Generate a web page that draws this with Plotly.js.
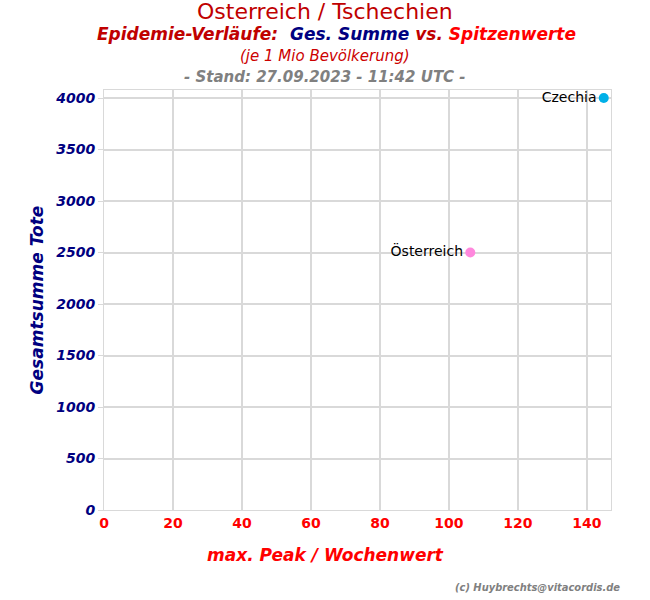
<!DOCTYPE html>
<html><head><meta charset="utf-8">
<script src="https://cdn.plot.ly/plotly-3.0.1.min.js"></script>
<style>body{margin:0;padding:0;background:#fff}#chart{width:650px;height:600px}</style>
</head><body><div id="chart"></div>
<script>
const countries = ["Österreich", "Czechia"];
const peakValues = [106.2, 144.9];
const totalDeaths = [2500, 4000];
const markerColors = ["#ff88dd", "#00b0e8"];
const xTicks = [0, 20, 40, 60, 80, 100, 120, 140];
const yTicks = [0, 500, 1000, 1500, 2000, 2500, 3000, 3500, 4000];

const F = "DejaVu Sans, sans-serif";
const CX = -32.5; // shift from plot centre to page centre
const data = [{
  type: "scatter", mode: "markers+text",
  x: peakValues, y: totalDeaths, text: countries,
  textposition: "middle left",
  textfont: {family: F, size: 14, color: "#000"},
  marker: {size: 10, color: markerColors},
  cliponaxis: false, hoverinfo: "none"
}];
const layout = {
  width: 650, height: 600,
  margin: {l: 104, r: 39, t: 90, b: 90},
  paper_bgcolor: "#fff", plot_bgcolor: "#fff",
  showlegend: false,
  font: {family: F},
  xaxis: {
    range: [0, 147], tickvals: xTicks, ticktext: xTicks.map(String),
    showgrid: true, gridcolor: "#d9d9d9", gridwidth: 2,
    zeroline: false, showline: true, linecolor: "#d9d9d9", linewidth: 1, mirror: true,
    ticks: "", tickfont: {family: F, size: 14, color: "#ff0000", weight: "bold"}
  },
  yaxis: {
    range: [0, 4078], tickvals: yTicks, ticktext: yTicks.map(String),
    showgrid: true, gridcolor: "#d9d9d9", gridwidth: 2,
    zeroline: false, showline: true, linecolor: "#d9d9d9", linewidth: 1, mirror: true,
    ticks: "outside", ticklen: 5, tickcolor: "#d9d9d9",
    tickfont: {family: F, size: 14, color: "#000080", weight: "bold", style: "italic"},
    title: {text: "Gesamtsumme Tote", standoff: 7,
      font: {family: F, size: 17, color: "#000080", weight: "bold", style: "italic"}}
  },
  annotations: [
    {text: "Osterreich / Tschechien", xref: "paper", yref: "paper", x: 0.5, y: 1, xshift: CX, yshift: 79,
     xanchor: "center", yanchor: "middle", showarrow: false,
     font: {family: F, size: 22, color: "#c00000"}},
    {text: "<i><b><span style='color:#c00000'>Epidemie-Verläufe:</span>  <span style='color:#000080'>Ges. Summe</span> <span style='color:#c00000'>vs.</span> <span style='color:#ff0000'>Spitzenwerte</span></b></i>",
     xref: "paper", yref: "paper", x: 0.5, y: 1, xshift: CX + 11, yshift: 56,
     xanchor: "center", yanchor: "middle", showarrow: false,
     font: {family: F, size: 17}},
    {text: "<i>(je 1 Mio Bevölkerung)</i>", xref: "paper", yref: "paper", x: 0.5, y: 1, xshift: CX, yshift: 34,
     xanchor: "center", yanchor: "middle", showarrow: false,
     font: {family: F, size: 15, color: "#cc0000"}},
    {text: "<b><i>- Stand: 27.09.2023 - 11:42 UTC -</i></b>", xref: "paper", yref: "paper", x: 0.5, y: 1, xshift: CX, yshift: 13,
     xanchor: "center", yanchor: "middle", showarrow: false,
     font: {family: F, size: 15, color: "#808080"}},
    {text: "<b><i>max. Peak / Wochenwert</i></b>", xref: "paper", yref: "paper", x: 0.5, y: 0, xshift: CX, yshift: -45,
     xanchor: "center", yanchor: "middle", showarrow: false,
     font: {family: F, size: 17, color: "#ff0000"}},
    {text: "<b><i>(c) Huybrechts@vitacordis.de</i></b>", xref: "paper", yref: "paper", x: 1, y: 0,
     xshift: 11, yshift: -77, xanchor: "right", yanchor: "middle", showarrow: false,
     font: {family: "DejaVu Sans Condensed, DejaVu Sans, sans-serif", size: 11, color: "#808080"}}
  ]
};
Plotly.newPlot("chart", data, layout, {displayModeBar: false, staticPlot: true});
</script></body></html>
